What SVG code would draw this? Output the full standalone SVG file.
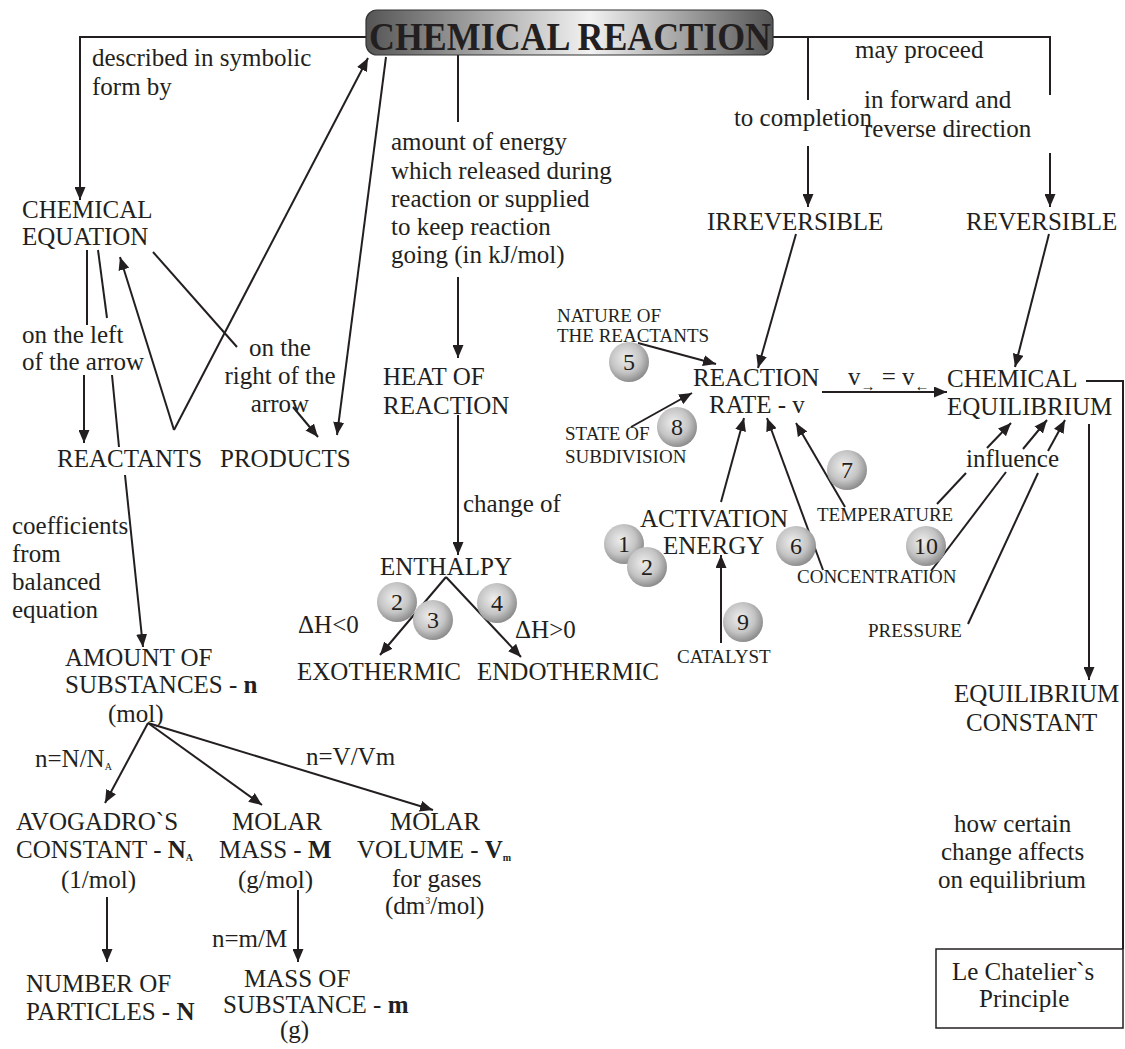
<svg xmlns="http://www.w3.org/2000/svg" width="1125" height="1049" viewBox="0 0 1125 1049">
<defs>
<linearGradient id="tg" x1="0" y1="0" x2="1" y2="0">
<stop offset="0" stop-color="#555"/>
<stop offset="0.55" stop-color="#f2f2f2"/>
<stop offset="1" stop-color="#555"/>
</linearGradient>
<radialGradient id="cg" cx="0.42" cy="0.4" r="0.62">
<stop offset="0" stop-color="#eeeeee"/>
<stop offset="0.6" stop-color="#c4c4c4"/>
<stop offset="1" stop-color="#8a8a8a"/>
</radialGradient>
<marker id="a" markerUnits="userSpaceOnUse" markerWidth="13" markerHeight="11" refX="13" refY="5.5" orient="auto">
<path d="M0,0 L13,5.5 L0,11 z" fill="#231f20"/>
</marker>
</defs>
<style>
text{font-family:"Liberation Serif","Times New Roman",serif;fill:#231f20}
.m{font-size:25px}
.s{font-size:19px}
.c{font-size:24px;text-anchor:middle}
.b{font-weight:bold}
.conn line,.conn polyline{stroke:#231f20;stroke-width:2;fill:none}
.ar{marker-end:url(#a)}
.ball{fill:url(#cg)}
</style>
<rect width="1125" height="1049" fill="#fff"/>

<g class="conn" id="connectors">
<polyline class="ar" points="366,37 80,37 80,200"/>
<line x1="458" y1="55" x2="458" y2="122"/>
<line class="ar" x1="458" y1="277" x2="458" y2="358"/>
<polyline points="773,37 1050,37 1050,95"/>
<line x1="808" y1="37" x2="808" y2="100"/>
<line class="ar" x1="808" y1="146" x2="808" y2="207"/>
<line class="ar" x1="1050" y1="153" x2="1050" y2="207"/>
<line class="ar" x1="796" y1="234" x2="758" y2="368"/>
<line class="ar" x1="1049" y1="234" x2="1015" y2="367"/>
<line class="ar" x1="174" y1="430" x2="368" y2="58"/>
<line class="ar" x1="174" y1="430" x2="120" y2="257"/>
<line class="ar" x1="386" y1="57" x2="337" y2="435"/>
<line x1="153" y1="252" x2="237" y2="347"/>
<line class="ar" x1="293" y1="407" x2="318" y2="437"/>
<line x1="87" y1="250" x2="87" y2="325"/>
<line x1="98" y1="250" x2="107" y2="318"/>
<line class="ar" x1="84" y1="375" x2="84" y2="443"/>
<line x1="112" y1="375" x2="119" y2="447"/>
<line class="ar" x1="125" y1="475" x2="143" y2="647"/>
<line class="ar" x1="458" y1="415" x2="458" y2="555"/>
<line class="ar" x1="446" y1="577" x2="380" y2="655"/>
<line class="ar" x1="446" y1="577" x2="521" y2="657"/>
<line class="ar" x1="638" y1="343" x2="716" y2="364"/>
<line class="ar" x1="631" y1="427" x2="692" y2="393"/>
<line class="ar" x1="822" y1="392" x2="947" y2="392"/>
<line class="ar" x1="721" y1="502" x2="744" y2="418"/>
<line class="ar" x1="823" y1="570" x2="767" y2="418"/>
<line class="ar" x1="845" y1="507" x2="796" y2="423"/>
<line class="ar" x1="721" y1="643" x2="721" y2="555"/>
<line x1="937" y1="504" x2="966" y2="473"/>
<line class="ar" x1="987" y1="448" x2="1011" y2="423"/>
<line x1="931" y1="571" x2="1006" y2="472"/>
<line class="ar" x1="1023" y1="449" x2="1047" y2="420"/>
<line x1="968" y1="624" x2="1038" y2="473"/>
<line class="ar" x1="1048" y1="451" x2="1065" y2="420"/>
<line class="ar" x1="1089" y1="424" x2="1089" y2="680"/>
<polyline points="1086,381 1123,381 1123,949"/>
<line class="ar" x1="148" y1="723" x2="105" y2="803"/>
<line class="ar" x1="148" y1="723" x2="262" y2="805"/>
<line class="ar" x1="148" y1="723" x2="433" y2="810"/>
<line class="ar" x1="107" y1="897" x2="107" y2="962"/>
<line class="ar" x1="298" y1="890" x2="298" y2="962"/>
</g>

<g id="title">
<rect x="366" y="10" width="407" height="45" rx="11" fill="url(#tg)" stroke="#333" stroke-width="1.2"/>
<text x="369" y="50" font-size="40" class="b" textLength="402" lengthAdjust="spacingAndGlyphs">CHEMICAL REACTION</text>
</g>

<g id="labels">
<text class="m" x="92" y="66">described in symbolic</text>
<text class="m" x="92" y="95">form by</text>
<text class="m" x="391" y="150">amount of energy</text>
<text class="m" x="391" y="179">which released during</text>
<text class="m" x="391" y="207">reaction or supplied</text>
<text class="m" x="391" y="235">to keep reaction</text>
<text class="m" x="391" y="263">going (in kJ/mol)</text>
<text class="m" x="855" y="58">may proceed</text>
<text class="m" x="803" y="126" text-anchor="middle">to completion</text>
<text class="m" x="864" y="108">in forward and</text>
<text class="m" x="864" y="137">reverse direction</text>
<text class="m" x="22" y="343">on the left</text>
<text class="m" x="22" y="370">of the arrow</text>
<text class="m" x="280" y="356" text-anchor="middle">on the</text>
<text class="m" x="280" y="384" text-anchor="middle">right of the</text>
<text class="m" x="280" y="412" text-anchor="middle">arrow</text>
<text class="m" x="12" y="534">coefficients</text>
<text class="m" x="12" y="562">from</text>
<text class="m" x="12" y="590">balanced</text>
<text class="m" x="12" y="618">equation</text>
<text class="m" x="463" y="512">change of</text>
<text class="m" x="298" y="633">ΔH&lt;0</text>
<text class="m" x="515" y="638">ΔH&gt;0</text>
<text class="m" x="848" y="385">v<tspan font-size="15" dy="6">→</tspan><tspan dy="-6"> = v</tspan><tspan font-size="15" dy="6">←</tspan></text>
<text class="m" x="966" y="467">influence</text>
<text class="m" x="35" y="767">n=N/N<tspan font-size="10" dy="3">A</tspan></text>
<text class="m" x="306" y="765">n=V/Vm</text>
<text class="m" x="212" y="947">n=m/M</text>
<text class="m" x="954" y="832">how certain</text>
<text class="m" x="941" y="860">change affects</text>
<text class="m" x="938" y="888">on equilibrium</text>
</g>

<g id="n-equation"><text class="m" x="22" y="218">CHEMICAL</text><text class="m" x="22" y="245">EQUATION</text></g>
<g id="n-reactants"><text class="m" x="57" y="467">REACTANTS</text></g>
<g id="n-products"><text class="m" x="220" y="467">PRODUCTS</text></g>
<g id="n-heat"><text class="m" x="383" y="385">HEAT OF</text><text class="m" x="383" y="414">REACTION</text></g>
<g id="n-enthalpy"><text class="m" x="380" y="575">ENTHALPY</text></g>
<g id="n-exo"><text class="m" x="297" y="680">EXOTHERMIC</text></g>
<g id="n-endo"><text class="m" x="477" y="680">ENDOTHERMIC</text></g>
<g id="n-irrev"><text class="m" x="707" y="230">IRREVERSIBLE</text></g>
<g id="n-rev"><text class="m" x="966" y="230">REVERSIBLE</text></g>
<g id="n-rate"><text class="m" x="693" y="386">REACTION</text><text class="m" x="709" y="413">RATE - v</text></g>
<g id="n-equil"><text class="m" x="947" y="387">CHEMICAL</text><text class="m" x="947" y="415">EQUILIBRIUM</text></g>
<g id="n-nature"><text class="s" x="557" y="322">NATURE OF</text><text class="s" x="557" y="342">THE REACTANTS</text></g>
<g id="n-state"><text class="s" x="565" y="440">STATE OF</text><text class="s" x="565" y="463">SUBDIVISION</text></g>
<g id="n-activation"><text class="m" x="640" y="527">ACTIVATION</text><text class="m" x="663" y="554">ENERGY</text></g>
<g id="n-temp"><text class="s" x="817" y="521">TEMPERATURE</text></g>
<g id="n-conc"><text class="s" x="797" y="583">CONCENTRATION</text></g>
<g id="n-press"><text class="s" x="868" y="637">PRESSURE</text></g>
<g id="n-catalyst"><text class="s" x="677" y="663">CATALYST</text></g>
<g id="n-eqconst"><text class="m" x="954" y="702">EQUILIBRIUM</text><text class="m" x="966" y="731">CONSTANT</text></g>
<g id="n-lechatelier">
<rect x="936" y="949" width="187" height="79" fill="none" stroke="#231f20" stroke-width="1.5"/>
<text class="m" x="952" y="980">Le Chatelier`s</text>
<text class="m" x="979" y="1007">Principle</text>
</g>
<g id="n-amount"><text class="m" x="65" y="666">AMOUNT OF</text><text class="m" x="65" y="693">SUBSTANCES - <tspan class="b">n</tspan></text><text class="m" x="108" y="722">(mol)</text></g>
<g id="n-avogadro"><text class="m" x="16" y="830">AVOGADRO`S</text><text class="m" x="16" y="858">CONSTANT - <tspan class="b">N</tspan><tspan class="b" font-size="10" dy="3">A</tspan></text><text class="m" x="61" y="888">(1/mol)</text></g>
<g id="n-molarmass"><text class="m" x="232" y="830">MOLAR</text><text class="m" x="219" y="858">MASS - <tspan class="b">M</tspan></text><text class="m" x="238" y="888">(g/mol)</text></g>
<g id="n-molarvol"><text class="m" x="390" y="830">MOLAR</text><text class="m" x="357" y="858">VOLUME - <tspan class="b">V</tspan><tspan class="b" font-size="10" dy="3">m</tspan></text><text class="m" x="392" y="887">for gases</text><text class="m" x="385" y="914">(dm<tspan font-size="10" dy="-10">3</tspan><tspan dy="10">/mol)</tspan></text></g>
<g id="n-particles"><text class="m" x="26" y="992">NUMBER  OF</text><text class="m" x="26" y="1020">PARTICLES - <tspan class="b">N</tspan></text></g>
<g id="n-mass"><text class="m" x="244" y="987">MASS OF</text><text class="m" x="223" y="1013">SUBSTANCE - <tspan class="b">m</tspan></text><text class="m" x="280" y="1038">(g)</text></g>

<g id="balls">
<g id="b1"><circle class="ball" cx="624" cy="544" r="20"/><text class="c" x="624" y="552">1</text></g>
<g id="b2a"><circle class="ball" cx="647" cy="567" r="20"/><text class="c" x="647" y="575">2</text></g>
<g id="b2b"><circle class="ball" cx="397" cy="602" r="20"/><text class="c" x="397" y="610">2</text></g>
<g id="b3"><circle class="ball" cx="433" cy="620" r="20"/><text class="c" x="433" y="628">3</text></g>
<g id="b4"><circle class="ball" cx="497" cy="603" r="20"/><text class="c" x="497" y="611">4</text></g>
<g id="b5"><circle class="ball" cx="629" cy="362" r="20"/><text class="c" x="629" y="370">5</text></g>
<g id="b6"><circle class="ball" cx="796" cy="546" r="20"/><text class="c" x="796" y="554">6</text></g>
<g id="b7"><circle class="ball" cx="847" cy="470" r="20"/><text class="c" x="847" y="478">7</text></g>
<g id="b8"><circle class="ball" cx="677" cy="427" r="20"/><text class="c" x="677" y="435">8</text></g>
<g id="b9"><circle class="ball" cx="743" cy="622" r="20"/><text class="c" x="743" y="630">9</text></g>
<g id="b10"><circle class="ball" cx="926" cy="546" r="20"/><text class="c" x="926" y="554">10</text></g>
</g>
</svg>
